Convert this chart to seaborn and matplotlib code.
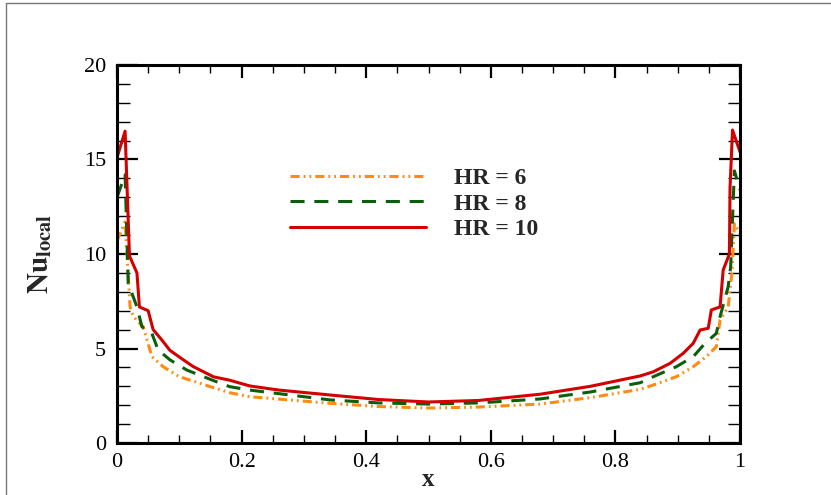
import numpy as np
import pandas as pd
import matplotlib
matplotlib.use("Agg")
import matplotlib.pyplot as plt
from matplotlib.lines import Line2D
from matplotlib.ticker import MultipleLocator
import seaborn as sns

# ---- data ----
x_hr10 = [0.0, 0.013, 0.02, 0.032, 0.036, 0.05, 0.058, 0.072, 0.085, 0.1, 0.122, 0.155,
          0.18, 0.213, 0.26, 0.342, 0.42, 0.5, 0.58, 0.679, 0.76, 0.84, 0.861, 0.888,
          0.909, 0.925, 0.936, 0.949, 0.954, 0.968, 0.973, 0.983, 0.984, 0.988, 1.0]
nu_hr10 = [15.1, 16.5, 9.9, 9.0, 7.2, 7.0, 6.0, 5.45, 4.9, 4.55, 4.05, 3.5,
           3.33, 3.02, 2.8, 2.54, 2.3, 2.17, 2.25, 2.58, 3.0, 3.55, 3.77, 4.22,
           4.75, 5.28, 5.98, 6.07, 7.04, 7.2, 9.15, 10.0, 13.5, 16.56, 15.4]

x_hr8 = [0.0, 0.013, 0.018, 0.032, 0.04, 0.056, 0.066, 0.085, 0.112, 0.155, 0.181,
         0.213, 0.342, 0.42, 0.5, 0.58, 0.679, 0.76, 0.84, 0.861, 0.898, 0.925,
         0.944, 0.962, 0.968, 0.981, 0.985, 0.991, 1.0]
nu_hr8 = [13.0, 14.2, 8.45, 7.2, 6.15, 5.8, 4.92, 4.4, 3.86, 3.3, 2.98,
          2.8, 2.28, 2.12, 2.06, 2.12, 2.33, 2.7, 3.19, 3.51, 4.04, 4.57,
          5.28, 5.8, 6.68, 8.27, 9.33, 14.4, 13.4]

x_hr6 = [0.0, 0.013, 0.021, 0.026, 0.042, 0.056, 0.074, 0.1, 0.15, 0.181, 0.213,
         0.342, 0.42, 0.5, 0.58, 0.679, 0.76, 0.84, 0.861, 0.898, 0.925, 0.946,
         0.962, 0.968, 0.981, 0.987, 0.991, 1.0]
nu_hr6 = [10.7, 11.7, 7.2, 6.7, 6.15, 4.57, 4.04, 3.51, 2.98, 2.66, 2.45,
          2.1, 1.93, 1.85, 1.9, 2.06, 2.4, 2.84, 3.07, 3.51, 4.04, 4.57,
          5.1, 6.5, 7.2, 8.98, 11.6, 11.1]

labels = ["HR = 6", "HR = 8", "HR = 10"]
x_ticks = [0, 0.2, 0.4, 0.6, 0.8, 1]
x_ticklabels = ["0", "0.2", "0.4", "0.6", "0.8", "1"]
y_ticks = [0, 5, 10, 15, 20]

# ---- style ----
sns.set_style("ticks")
plt.rcParams["font.family"] = ["Liberation Serif", "STIXGeneral", "DejaVu Serif"]
plt.rcParams["mathtext.fontset"] = "stix"

fig = plt.figure(figsize=(8.31, 4.95), dpi=100)
ax = fig.add_axes([117 / 831, 52 / 495, 623 / 831, 378 / 495])

colors = ["#FF8C10", "#0B5E0B", "#D20000"]
styles = [(0, (3.0, 1.3, 0.6, 1.3, 0.6, 1.3)), (0, (4.6, 3.2)), "-"]
series = [(x_hr6, nu_hr6), (x_hr8, nu_hr8), (x_hr10, nu_hr10)]

handles = []
for (xs, ys), lab, c, ls in zip(series, labels, colors, styles):
    df = pd.DataFrame({"x": xs, "Nu": ys})
    sns.lineplot(data=df, x="x", y="Nu", ax=ax, sort=False, estimator=None,
                 color=c, linewidth=2.2, linestyle=ls)
    handles.append(Line2D([], [], color=c, linewidth=2.2, linestyle=ls))

ax.set_xlim(0, 1)
ax.set_ylim(0, 20)
ax.set_xticks(x_ticks)
ax.set_xticklabels(x_ticklabels)
ax.set_yticks(y_ticks)
ax.xaxis.set_minor_locator(MultipleLocator(0.05))
ax.yaxis.set_minor_locator(MultipleLocator(1))
ax.tick_params(axis="both", which="both", direction="in", top=True, right=True,
               labelsize=16, colors="black")
ax.tick_params(axis="y", which="major", length=15, width=1.6, pad=8)
ax.tick_params(axis="y", which="minor", length=9, width=1.0)
ax.tick_params(axis="x", which="major", length=9.5, width=1.6, pad=7)
ax.tick_params(axis="x", which="minor", length=6, width=1.0)
for s in ax.spines.values():
    s.set_linewidth(2.2)
    s.set_color("black")

ax.set_xlabel("x", fontsize=18, fontweight="bold", labelpad=-3)
ax.set_ylabel(r"$\mathbf{Nu}_{\mathbf{local}}$", fontsize=21, labelpad=21)

leg = ax.legend(handles, labels, loc="upper left", bbox_to_anchor=(0.244, 0.785),
                frameon=False, handlelength=5.73, handletextpad=1.2,
                labelspacing=0.17, prop={"weight": "bold", "size": 17})

# figure border lines (grey)
fig.add_artist(Line2D([6 / 831, 1], [1 - 3 / 495, 1 - 3 / 495], color="#777777", lw=1))
fig.add_artist(Line2D([6 / 831, 6 / 831], [0, 1 - 3 / 495], color="#777777", lw=1))

fig.savefig("out.png", dpi=100)
